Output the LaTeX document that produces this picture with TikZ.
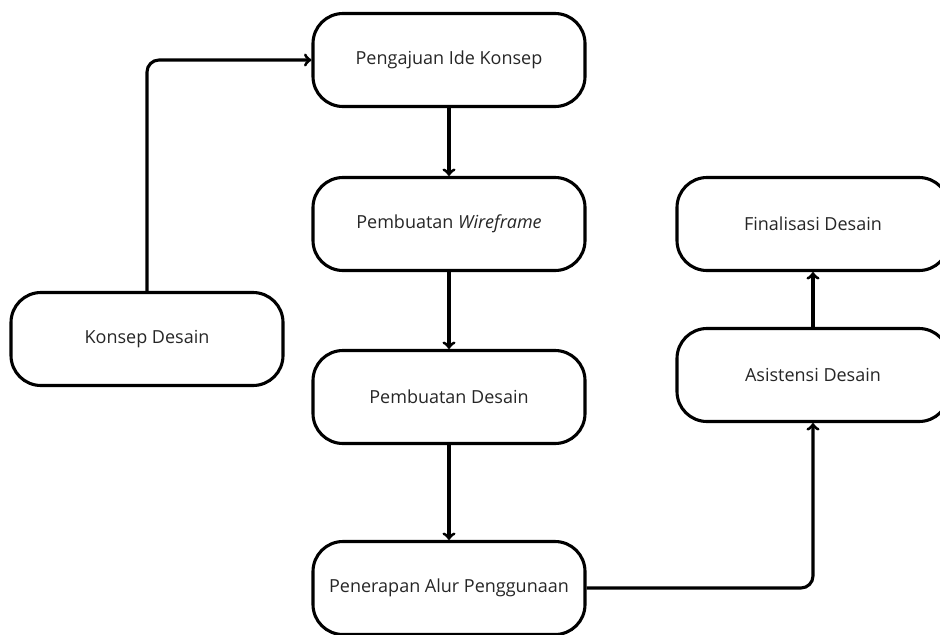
\documentclass[tikz,border=0pt]{standalone}
\usepackage{fontspec}
\setmainfont{Open Sans}
\usepackage{tikz}

\begin{document}
\begin{tikzpicture}[x=0.025cm, y=-0.025cm, font = \fontsize{12.8}{15}\selectfont,
        tahap/.style = {draw, line width=2.2pt, rounded corners=30*0.025cm, minimum width=272*0.025cm, minimum height=93*0.025cm, inner sep=0pt, text=black!85},
        alur/.style = {line width=2.2pt, ->, rounded corners=12*0.025cm}]
        \useasboundingbox (0,0) rectangle (940,634);
        
        \node[tahap] (ide) at (449,60) {Pengajuan Ide Konsep};
        \node[tahap] (wire) at (449,224) {Pembuatan \textit{Wireframe}};
        \node[tahap] (desain) at (449,397) {Pembuatan Desain};
        \node[tahap] (terap) at (449,588) {Penerapan Alur Penggunaan};
        \node[tahap] (konsep) at (147,339) {Konsep Desain};
        \node[tahap] (final) at (813,224) {Finalisasi Desain};
        \node[tahap] (asis) at (813,375) {Asistensi Desain};
        
        \draw[alur] (konsep.north) |- (ide.west);
        \draw[alur] (ide) -- (wire);
        \draw[alur] (wire) -- (desain);
        \draw[alur] (desain) -- (terap);
        \draw[alur] (terap.east) -| (asis.south);
        \draw[alur] (asis) -- (final);
    \end{tikzpicture}
\end{document}
